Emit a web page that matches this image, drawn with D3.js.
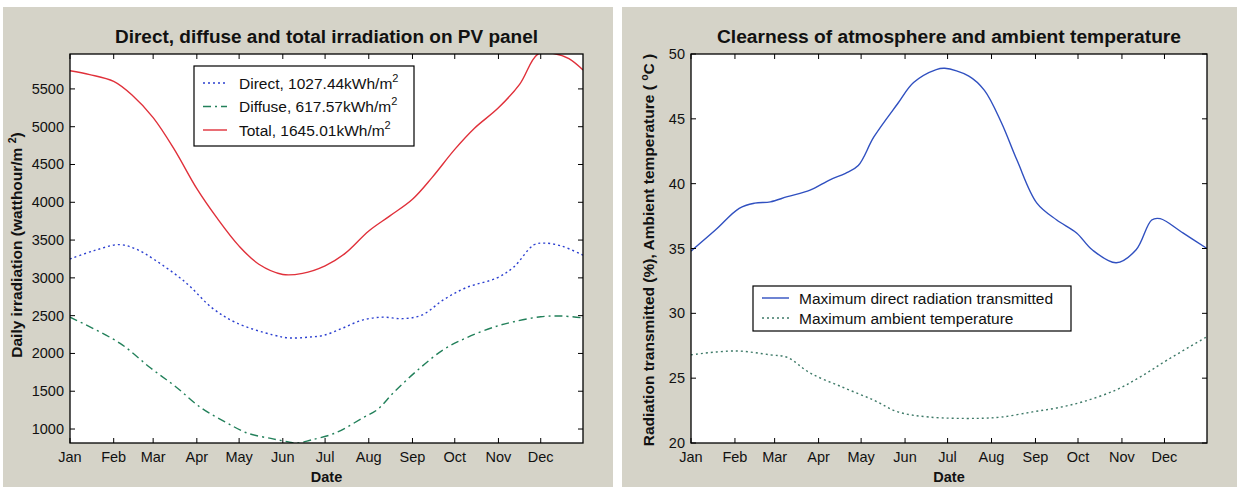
<html>
<head>
 <meta charset="UTF-8">
 <title>Irradiation on PV panel</title>
 <script type="text/javascript" src="https://cdn.jsdelivr.net/npm/d3@7/dist/d3.min.js"></script>
 <style>
body {
  margin: 0;
  background: #fff;
  font-family: "Liberation Sans", Arial, sans-serif;
}
.panel {
  fill: #d5d3c8;
}
.frame {
  fill: none;
  stroke: #000;
  stroke-width: 1.3px;
}
.tick {
  stroke: #000;
  stroke-width: 1px;
}
.ticklabel {
  font-size: 14.5px;
  fill: #111;
}
.title, .axlabel {
  font-weight: bold;
  fill: #111;
}
.title {
  font-size: 17.5px;
}
.axlabel {
  font-size: 14.5px;
}
.ylab {
  font-size: 15.5px;
}
.curve {
  fill: none;
  stroke-width: 1.4px;
}
.legend text {
  font-size: 15.5px;
  fill: #111;
}
 </style>
</head>
<body>
<svg id="chart" width="1242" height="487"></svg>
<script type="text/javascript">
// month ticks (day of year)
var monthDays = [1, 32, 60, 91, 121, 152, 182, 213, 244, 274, 305, 335];
var monthNames = ["Jan", "Feb", "Mar", "Apr", "May", "Jun", "Jul", "Aug", "Sep", "Oct", "Nov", "Dec"];

// left chart: daily irradiation (Wh/m2)
var directDays = [1, 18, 36, 48, 61, 83, 102, 119, 145, 157, 170, 181, 195, 209, 223, 237, 251, 266, 282, 304, 316, 330, 338, 350, 365];
var directVals = [3250, 3360, 3440, 3380, 3240, 2940, 2600, 2405, 2245, 2205, 2215, 2240, 2340, 2445, 2480, 2460, 2510, 2710, 2870, 3000, 3145, 3435, 3460, 3420, 3300];

var diffuseDays = [1, 36, 58, 76, 94, 111, 127, 145, 156, 163, 172, 189, 209, 219, 231, 248, 266, 282, 302, 316, 335, 350, 365];
var diffuseVals = [2480, 2140, 1810, 1560, 1280, 1095, 945, 870, 830, 815, 855, 945, 1150, 1255, 1490, 1785, 2050, 2205, 2350, 2420, 2485, 2495, 2470];

var totalDays = [1, 15, 32, 45, 60, 75, 91, 105, 121, 135, 152, 166, 182, 196, 213, 228, 244, 258, 274, 288, 305, 320, 333, 345, 355, 365];
var totalVals = [5740, 5690, 5600, 5420, 5120, 4700, 4180, 3800, 3420, 3180, 3045, 3060, 3160, 3320, 3620, 3820, 4040, 4330, 4700, 4980, 5250, 5560, 5960, 5965, 5900, 5750];

var irrTicks = [1000, 1500, 2000, 2500, 3000, 3500, 4000, 4500, 5000, 5500];

// right chart: clearness (%) and ambient temperature (deg C)
var radDays = [1, 18, 35, 46, 57, 69, 85, 99, 110, 119, 130, 147, 158, 174, 180, 197, 208, 220, 231, 245, 259, 273, 284, 301, 315, 326, 332, 348, 365];
var radVals = [34.8, 36.4, 38.1, 38.5, 38.6, 39.0, 39.5, 40.3, 40.8, 41.4, 43.6, 46.2, 47.8, 48.8, 48.9, 48.3, 47.2, 44.7, 41.8, 38.5, 37.2, 36.2, 34.9, 33.9, 34.9, 37.2, 37.3, 36.2, 35.0];

var tempDays = [1, 32, 57, 69, 85, 108, 130, 147, 169, 203, 220, 242, 259, 278, 301, 318, 337, 365];
var tempVals = [26.8, 27.1, 26.8, 26.6, 25.4, 24.3, 23.3, 22.4, 22.0, 21.9, 22.0, 22.4, 22.7, 23.2, 24.1, 25.1, 26.4, 28.2];

var tempTicks = [20, 25, 30, 35, 40, 45, 50];

var svg = d3.select("#chart");

function zip(days, vals) {
  return days.map(function(d, i){ return {day: d, v: vals[i]}; });
}

function drawPanel(cfg) {
  var g = svg.append("g");
  g.append("rect").attr("class", "panel")
    .attr("x", cfg.bg[0]).attr("y", 7)
    .attr("width", cfg.bg[1] - cfg.bg[0]).attr("height", 480);

  var x = d3.scaleLinear().domain([1, 365]).range([cfg.left, cfg.right]),
    y = d3.scaleLinear().domain(cfg.ydomain).range([cfg.bottom, cfg.top]);

  g.append("rect").attr("fill", "#fff")
    .attr("x", cfg.left).attr("y", cfg.top)
    .attr("width", cfg.right - cfg.left).attr("height", cfg.bottom - cfg.top);

  var clipId = "clip" + cfg.id;
  g.append("clipPath").attr("id", clipId).append("rect")
    .attr("x", cfg.left).attr("y", cfg.top)
    .attr("width", cfg.right - cfg.left).attr("height", cfg.bottom - cfg.top);

  var line = d3.line()
    .curve(d3.curveCatmullRom)
    .x(function(d){ return x(d.day); })
    .y(function(d){ return y(d.v); });

  cfg.series.forEach(function(s){
    g.append("path")
      .attr("class", "curve")
      .attr("clip-path", "url(#" + clipId + ")")
      .attr("stroke", s.color)
      .attr("stroke-dasharray", s.dash)
      .attr("d", line(s.data));
  });

  // ticks, inward on all four sides
  var tl = 5;
  monthDays.forEach(function(d){
    g.append("line").attr("class", "tick")
      .attr("x1", x(d)).attr("x2", x(d)).attr("y1", cfg.bottom).attr("y2", cfg.bottom - tl);
    g.append("line").attr("class", "tick")
      .attr("x1", x(d)).attr("x2", x(d)).attr("y1", cfg.top).attr("y2", cfg.top + tl);
  });
  cfg.yticks.forEach(function(t){
    g.append("line").attr("class", "tick")
      .attr("x1", cfg.left).attr("x2", cfg.left + tl).attr("y1", y(t)).attr("y2", y(t));
    g.append("line").attr("class", "tick")
      .attr("x1", cfg.right).attr("x2", cfg.right - tl).attr("y1", y(t)).attr("y2", y(t));
    g.append("text").attr("class", "ticklabel")
      .attr("x", cfg.left - 6).attr("y", y(t) + 5)
      .attr("text-anchor", "end")
      .text(t);
  });
  monthNames.forEach(function(m, i){
    g.append("text").attr("class", "ticklabel")
      .attr("x", x(monthDays[i])).attr("y", cfg.bottom + 19)
      .attr("text-anchor", "middle")
      .text(m);
  });

  g.append("rect").attr("class", "frame")
    .attr("x", cfg.left).attr("y", cfg.top)
    .attr("width", cfg.right - cfg.left).attr("height", cfg.bottom - cfg.top);

  g.append("text").attr("class", "title")
    .attr("x", (cfg.left + cfg.right) / 2).attr("y", 43)
    .attr("text-anchor", "middle")
    .attr("textLength", cfg.titleLen)
    .attr("lengthAdjust", "spacingAndGlyphs")
    .text(cfg.title);

  g.append("text").attr("class", "axlabel")
    .attr("x", (cfg.left + cfg.right) / 2).attr("y", cfg.bottom + 39)
    .attr("text-anchor", "middle")
    .text("Date");

  var yl = g.append("text").attr("class", "axlabel ylab")
    .attr("transform", "translate(" + cfg.ylabelX + "," + cfg.ylabelY + ") rotate(-90)")
    .attr("text-anchor", "middle");
  yl.append("tspan").text(cfg.ylabel[0]);
  yl.append("tspan").attr("font-size", "10.5px").attr("dy", -6).text(cfg.ylabel[1]);
  yl.append("tspan").attr("dy", 6).text(cfg.ylabel[2]);

  // legend
  var lg = g.append("g").attr("class", "legend");
  lg.append("rect")
    .attr("x", cfg.legend.x).attr("y", cfg.legend.y)
    .attr("width", cfg.legend.w).attr("height", cfg.legend.h)
    .attr("fill", "#fff").attr("stroke", "#000").attr("stroke-width", 1.2);
  cfg.series.forEach(function(s, i){
    var ly = cfg.legend.y + cfg.legend.first + i * cfg.legend.step;
    lg.append("line")
      .attr("x1", cfg.legend.x + 9).attr("x2", cfg.legend.x + 9 + cfg.legend.sample)
      .attr("y1", ly).attr("y2", ly)
      .attr("stroke", s.color).attr("stroke-width", 1.4)
      .attr("stroke-dasharray", s.dash);
    var t = lg.append("text")
      .attr("x", cfg.legend.x + cfg.legend.textX).attr("y", ly + 5.5);
    t.append("tspan").text(s.label);
    if (s.sup) {
      t.append("tspan").attr("font-size", "11px").attr("dy", -7).text(s.sup);
    }
  });
}

drawPanel({
  id: "a",
  bg: [3, 613],
  left: 70, right: 583, top: 54, bottom: 443,
  ydomain: [815, 5962],
  yticks: irrTicks,
  title: "Direct, diffuse and total irradiation on PV panel",
  titleLen: 423,
  ylabel: ["Daily irradiation (watthour/m ", "2", ")"],
  ylabelX: 22, ylabelY: 245,
  legend: {x: 194, y: 66, w: 220, h: 80, first: 17, step: 23.5, sample: 24, textX: 45},
  series: [
    {data: zip(directDays, directVals), color: "#2b3fd0", dash: "2,3", label: "Direct, 1027.44kWh/m", sup: "2"},
    {data: zip(diffuseDays, diffuseVals), color: "#22805a", dash: "8,4,2,4", label: "Diffuse, 617.57kWh/m", sup: "2"},
    {data: zip(totalDays, totalVals), color: "#e0303a", dash: null, label: "Total, 1645.01kWh/m", sup: "2"}
  ]
});

drawPanel({
  id: "b",
  bg: [622, 1237],
  left: 691, right: 1207, top: 54, bottom: 443,
  ydomain: [20, 50],
  yticks: tempTicks,
  title: "Clearness of atmosphere and ambient temperature",
  titleLen: 464,
  ylabel: ["Radiation transmitted (%), Ambient temperature ( ", "o", "C )"],
  ylabelX: 654, ylabelY: 250,
  legend: {x: 753, y: 286, w: 318, h: 45, first: 12, step: 20, sample: 27, textX: 46},
  series: [
    {data: zip(radDays, radVals), color: "#3050c0", dash: null, label: "Maximum direct radiation transmitted"},
    {data: zip(tempDays, tempVals), color: "#3e7a68", dash: "2,3", label: "Maximum ambient temperature"}
  ]
});
</script>
</body>
</html>
